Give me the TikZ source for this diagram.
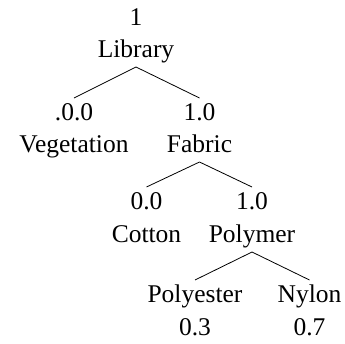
\documentclass[tikz,border=0pt]{standalone}
\usepackage{fontspec}
\setmainfont{Liberation Serif}
\begin{document}
\begin{tikzpicture}[x=1pt,y=-1pt,
  lab/.style={anchor=base,inner sep=0pt,outer sep=4pt,text height=18pt,text depth=6pt,
    font=\fontsize{25.5}{31}\selectfont},
  edge/.style={line width=0.8pt}]
\useasboundingbox (0,0) rectangle (345,343);
\node[lab] (n1) at (136,25) {1};
\node[lab] (lib) at (136,57) {Library};
\node[lab] (vegn) at (74,120) {.0.0};
\node[lab] (veg) at (74,152) {Vegetation};
\node[lab] (fabn) at (199.5,120) {1.0};
\node[lab] (fab) at (199.5,152) {Fabric};
\node[lab] (cotn) at (146.5,209) {0.0};
\node[lab] (cot) at (146.5,242) {Cotton};
\node[lab] (poln) at (252,209) {1.0};
\node[lab] (pol) at (252,242) {Polymer};
\node[lab] (pes) at (195,302) {Polyester};
\node[lab] (pesn) at (195,335) {0.3};
\node[lab] (nyl) at (309.5,302) {Nylon};
\node[lab] (nyln) at (309.5,335) {0.7};
\draw[edge] (lib.south) -- (vegn.north);
\draw[edge] (lib.south) -- (fabn.north);
\draw[edge] (fab.south) -- (cotn.north);
\draw[edge] (fab.south) -- (poln.north);
\draw[edge] (pol.south) -- (pes.north);
\draw[edge] (pol.south) -- (nyl.north);
\end{tikzpicture}
\end{document}
